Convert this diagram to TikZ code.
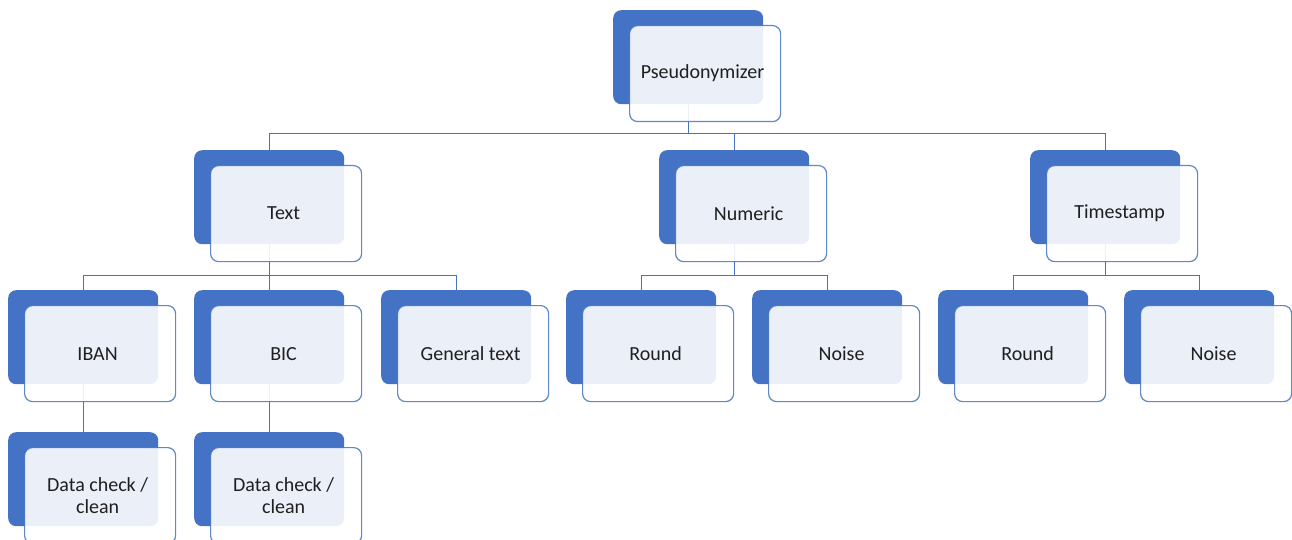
\documentclass[tikz,border=0pt]{standalone}
\usepackage{fontspec}
\setmainfont{Carlito}
\usetikzlibrary{backgrounds}
\definecolor{acc}{HTML}{4472C4}
\definecolor{txtc}{HTML}{1F1F1F}
\tikzset{
  backbox/.style={fill=acc, draw=none, rounded corners=8pt, minimum width=150pt, minimum height=94pt, inner sep=0pt},
  frontbox/.style={fill=white, fill opacity=0.89, text opacity=1, draw=acc, draw opacity=0.85, line width=1.2pt, rounded corners=8pt,
    minimum width=151pt, minimum height=96pt, inner sep=0pt, align=center, text=txtc, font=\fontsize{20}{22.5}\selectfont},
  conn/.style={draw=acc, line width=1.3pt}
}
\newcommand\mybox[4]{%
  \node[backbox, anchor=north west] (#1) at (#2,#3) {};
  \node[frontbox, anchor=north west] (#1f) at (#2+16,#3+15) {\hspace*{-5pt}#4};
}
\begin{document}
\begin{tikzpicture}[x=1pt,y=-1pt]
\useasboundingbox (0,0) rectangle (1292,540);
\mybox{top}{613}{10}{Pseudonymizer}
\mybox{txt}{194}{150}{Text}
\mybox{num}{659}{150}{Numeric}
\mybox{ts}{1030}{150}{Timestamp}
\mybox{iban}{8}{290}{IBAN}
\mybox{bic}{194}{290}{BIC}
\mybox{gen}{381}{290}{General text}
\mybox{rnda}{566}{290}{Round}
\mybox{noia}{752}{290}{Noise}
\mybox{rndb}{938}{290}{Round}
\mybox{noib}{1124}{290}{Noise}
\mybox{dca}{8}{432}{Data check /\\\hspace*{-5pt}clean}
\mybox{dcb}{194}{432}{Data check /\\\hspace*{-5pt}clean}
\begin{pgfonlayer}{background}
\fill[white] (0,0) rectangle (1292,540);
\draw[conn] (top.south) -- ++(0,29) -| (txt.north);
\draw[conn] (top.south) -- ++(0,29) -| (num.north);
\draw[conn] (top.south) -- ++(0,29) -| (ts.north);
\draw[conn] (txt.south) -- ++(0,31) -| (iban.north);
\draw[conn] (txt.south) -- ++(0,31) -| (bic.north);
\draw[conn] (txt.south) -- ++(0,31) -| (gen.north);
\draw[conn] (num.south) -- ++(0,31) -| (rnda.north);
\draw[conn] (num.south) -- ++(0,31) -| (noia.north);
\draw[conn] (ts.south) -- ++(0,31) -| (rndb.north);
\draw[conn] (ts.south) -- ++(0,31) -| (noib.north);
\draw[conn] (iban.south) -- (dca.north);
\draw[conn] (bic.south) -- (dcb.north);
\end{pgfonlayer}
\end{tikzpicture}
\end{document}
